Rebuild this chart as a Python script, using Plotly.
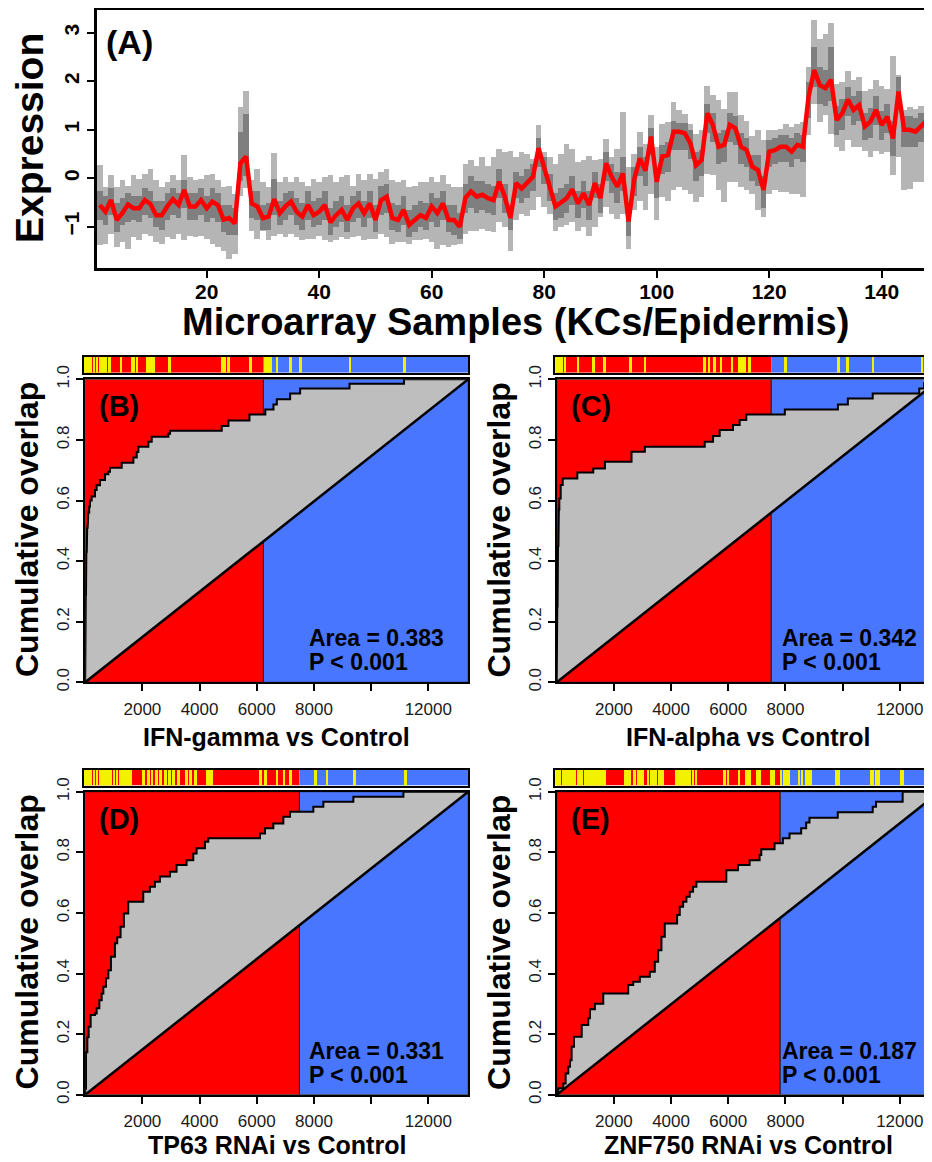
import plotly.graph_objects as go

# The page body has an 8px default margin, so the figure is placed 8px in from the
# window's top-left corner; positions below are given in window pixels.
OFF = 8
W, H = 932 - OFF, 1162 - OFF
FONT = "Liberation Sans, Arial, sans-serif"


def px(x):
    return (x - OFF) / W


def py(y):
    return 1 - (y - OFF) / H


# ---------------- Panel A data ----------------
samples = list(range(1, 150))
median = [-0.55, -0.69, -0.45, -0.86, -0.72, -0.54, -0.62, -0.62, -0.45, -0.53,
          -0.76, -0.76, -0.58, -0.43, -0.55, -0.24, -0.58, -0.58, -0.45, -0.62,
          -0.48, -0.55, -0.85, -0.82, -0.93, 0.31, 0.45, -0.52, -0.58, -0.82,
          -0.79, -0.43, -0.72, -0.58, -0.48, -0.69, -0.79, -0.55, -0.76, -0.69,
          -0.55, -0.91, -0.76, -0.65, -0.86, -0.62, -0.52, -0.72, -0.52, -0.86,
          -0.45, -0.38, -0.82, -0.86, -0.65, -0.96, -0.86, -0.76, -0.82, -0.58,
          -0.72, -0.52, -0.86, -0.86, -1.00, -0.40, -0.27, -0.38, -0.34, -0.41,
          -0.45, -0.07, -0.38, -0.82, -0.10, -0.21, -0.09, 0.03, 0.62, 0.24,
          -0.17, -0.58, -0.50, -0.41, -0.23, -0.52, -0.31, -0.55, -0.10, -0.41,
          0.31, 0.03, -0.17, 0.10, -0.89, -0.03, 0.41, 0.16, 0.86, -0.07,
          0.45, 0.48, 0.96, 0.96, 0.93, 0.72, 0.27, 0.38, 1.34, 1.10,
          0.65, 0.69, 1.10, 1.03, 0.65, 0.58, 0.24, 0.17, -0.24, 0.55,
          0.58, 0.65, 0.65, 0.55, 0.69, 0.65, 1.68, 2.23, 1.92, 1.86,
          2.03, 1.20, 1.34, 1.62, 1.41, 1.51, 1.07, 1.17, 1.41, 1.10,
          1.27, 0.82, 1.79, 1.00, 1.00, 0.96, 1.07, 1.20, 1.27]
light_hi = [0.29, -0.17, 0.07, -0.17, -0.03, -0.14, 0.07, 0.00, 0.10, 0.21,
            -0.03, -0.17, -0.07, 0.07, -0.03, 0.50, 0.03, -0.03, 0.00, 0.07,
            0.10, -0.03, -0.17, -0.14, -0.31, 1.48, 1.82, -0.03, 0.21, -0.07,
            -0.17, 0.53, -0.07, 0.03, -0.07, 0.03, -0.07, -0.14, 0.00, -0.07,
            0.03, 0.07, -0.07, 0.03, 0.07, -0.14, 0.10, -0.03, 0.10, 0.00,
            0.14, 0.21, -0.03, -0.07, -0.03, -0.17, -0.14, -0.07, -0.07, 0.03,
            -0.07, 0.07, -0.10, -0.17, -0.17, 0.31, 0.38, 0.27, 0.45, 0.27,
            0.45, 0.62, 0.55, 0.58, 0.45, 0.55, 0.52, 0.41, 1.10, 0.55,
            0.45, 0.31, 0.52, 0.72, 0.62, 0.34, 0.38, 0.48, 0.38, 0.41,
            0.82, 0.45, 0.62, 1.37, 0.24, 0.52, 0.96, 0.72, 1.31, 0.65,
            1.13, 1.17, 1.58, 1.41, 1.34, 1.13, 0.93, 1.00, 1.92, 1.72,
            1.62, 1.44, 1.79, 1.79, 1.31, 1.20, 0.89, 1.00, 0.79, 1.00,
            1.00, 1.03, 1.13, 1.07, 1.13, 1.17, 2.30, 3.28, 2.89, 2.99,
            3.21, 1.96, 1.99, 2.23, 2.03, 2.10, 1.82, 1.86, 2.03, 1.92,
            1.86, 2.54, 2.13, 1.41, 1.48, 1.44, 1.51, 1.55, 1.58]
light_lo = [-1.37, -1.34, -1.13, -1.41, -1.31, -1.44, -1.20, -1.27, -1.13, -1.17,
            -1.31, -1.34, -1.20, -1.24, -1.13, -1.27, -1.17, -1.20, -1.17, -1.24,
            -1.34, -1.41, -1.48, -1.65, -1.55, -0.35, -0.20, -1.07, -1.24, -1.07,
            -1.27, -1.17, -1.13, -1.20, -1.13, -1.20, -1.27, -1.24, -1.24, -1.17,
            -1.27, -1.31, -1.27, -1.20, -1.24, -1.20, -1.17, -1.27, -1.24, -1.24,
            -1.13, -1.20, -1.34, -1.31, -1.31, -1.34, -1.27, -1.27, -1.24, -1.31,
            -1.44, -1.37, -1.41, -1.37, -1.34, -1.13, -1.07, -1.07, -1.03, -1.07,
            -1.10, -0.89, -1.00, -1.48, -0.86, -0.72, -0.76, -0.65, -0.38, -0.58,
            -0.72, -1.07, -1.00, -0.96, -0.89, -1.07, -1.00, -1.17, -1.00, -0.79,
            -0.58, -0.72, -0.82, -0.72, -1.44, -0.65, -0.45, -0.65, -0.31, -0.86,
            -0.38, -0.45, -0.24, -0.17, -0.24, -0.31, -0.48, -0.38, 0.10, 0.07,
            -0.24, -0.48, -0.07, -0.07, -0.17, -0.24, -0.31, -0.65, -0.79, -0.31,
            -0.24, -0.27, -0.27, -0.31, -0.31, -0.38, 0.90, 1.55, 1.17, 1.31,
            0.93, 0.65, 0.58, 0.79, 0.65, 0.65, 0.58, 0.45, 0.58, 0.52,
            0.55, 0.07, 0.45, -0.24, -0.21, -0.07, -0.07, -0.03, 0.00]
dark_lo = [-0.85, -0.95, -0.75, -1.10, -0.95, -0.90, -0.85, -0.90, -0.75, -0.80,
           -1.00, -1.05, -0.85, -0.75, -0.80, -0.60, -0.85, -0.85, -0.75, -0.90,
           -0.80, -0.90, -1.10, -1.15, -1.15, -0.05, 0.05, -0.80, -0.85, -1.05,
           -1.05, -0.75, -0.95, -0.85, -0.75, -0.95, -1.05, -0.85, -1.00, -0.95,
           -0.85, -1.15, -1.00, -0.90, -1.10, -0.90, -0.80, -1.00, -0.80, -1.10,
           -0.75, -0.70, -1.05, -1.10, -0.95, -1.20, -1.10, -1.00, -1.05, -0.90,
           -1.00, -0.85, -1.10, -1.15, -1.25, -0.70, -0.60, -0.70, -0.65, -0.70,
           -0.75, -0.40, -0.70, -1.05, -0.40, -0.50, -0.40, -0.25, 0.25, -0.10,
           -0.45, -0.85, -0.80, -0.70, -0.55, -0.80, -0.60, -0.85, -0.40, -0.70,
           -0.05, -0.30, -0.50, -0.25, -1.17, -0.35, 0.05, -0.15, 0.50, -0.40,
           0.10, 0.15, 0.60, 0.60, 0.60, 0.40, -0.05, 0.05, 0.95, 0.75,
           0.30, 0.35, 0.75, 0.70, 0.30, 0.25, -0.05, -0.15, -0.60, 0.25,
           0.30, 0.35, 0.35, 0.25, 0.40, 0.35, 1.25, 1.90, 1.55, 1.50,
           1.60, 0.90, 1.00, 1.30, 1.10, 1.20, 0.80, 0.85, 1.10, 0.80,
           0.95, 0.48, 1.45, 0.65, 0.65, 0.65, 0.75, 0.85, 0.90]
dark_hi = [-0.25, -0.35, -0.20, -0.50, -0.40, -0.30, -0.35, -0.35, -0.20, -0.25,
           -0.45, -0.45, -0.30, -0.20, -0.30, -0.03, -0.30, -0.30, -0.20, -0.35,
           -0.20, -0.30, -0.55, -0.55, -0.60, 0.96, 1.34, -0.25, -0.25, -0.55,
           -0.50, 0.00, -0.45, -0.30, -0.25, -0.40, -0.50, -0.25, -0.45, -0.40,
           -0.25, -0.60, -0.45, -0.35, -0.55, -0.35, -0.25, -0.45, -0.25, -0.55,
           -0.15, -0.10, -0.50, -0.55, -0.35, -0.65, -0.55, -0.45, -0.50, -0.30,
           -0.40, -0.25, -0.55, -0.55, -0.70, -0.10, 0.05, -0.05, -0.05, -0.10,
           -0.15, 0.20, -0.10, -0.55, 0.15, 0.05, 0.20, 0.30, 0.85, 0.45,
           0.10, -0.30, -0.20, -0.10, 0.05, -0.25, -0.05, -0.25, 0.15, -0.10,
           0.55, 0.30, 0.15, 0.45, -0.60, 0.25, 0.65, 0.45, 1.05, 0.25,
           0.70, 0.75, 1.20, 1.15, 1.15, 1.00, 0.55, 0.60, 1.55, 1.35,
           0.95, 1.00, 1.35, 1.30, 0.95, 0.85, 0.50, 0.50, 0.05, 0.80,
           0.85, 0.90, 0.90, 0.85, 0.95, 0.90, 2.00, 2.71, 2.30, 2.25,
           2.71, 1.50, 1.65, 1.90, 1.70, 1.80, 1.35, 1.45, 1.70, 1.40,
           1.55, 1.20, 2.10, 1.30, 1.30, 1.25, 1.35, 1.45, 1.50]

# ---------------- Panels B-E data ----------------
n_genes = 13400

b_x = [0, 5, 10, 15, 20, 28, 40, 55, 70, 86, 110, 140, 168, 226, 343, 401, 518, 693, 810, 868,
       1277, 1685, 1802, 1860, 2210, 2326, 2910, 2968, 4776, 5010, 5745, 6300, 6585, 6702,
       7168, 7518, 9244, 11150]
b_y = [0.02, 0.08, 0.15, 0.22, 0.29, 0.37, 0.43, 0.48, 0.51, 0.535, 0.56, 0.58, 0.60, 0.613,
       0.635, 0.65, 0.668, 0.687, 0.695, 0.708, 0.725, 0.742, 0.76, 0.777, 0.794, 0.81, 0.82,
       0.83, 0.846, 0.864, 0.884, 0.90, 0.917, 0.934, 0.953, 0.97, 0.985, 1.0]
b_hits = [0, 100, 200, 300, 400, 500, 600, 700, 845, 1253, 1627, 1708, 1800, 2150, 2230, 2310,
          2385, 2945, 4777, 4858, 5000, 5768, 6293, 6360, 6430, 6493, 6700, 7168, 7518, 9244,
          11158]
b_split = 6234

c_x = [0, 10, 20, 30, 45, 60, 75, 92, 140, 210, 722, 1280, 1687, 2617, 3083, 5178, 5469,
       5701, 6166, 6400, 6631, 7980, 9836, 10184, 11053, 12682, 12850, 13000]
c_y = [0.05, 0.15, 0.25, 0.35, 0.45, 0.52, 0.57, 0.607, 0.651, 0.673, 0.692, 0.706, 0.728,
       0.761, 0.777, 0.794, 0.813, 0.833, 0.849, 0.866, 0.884, 0.90, 0.917, 0.937, 0.953,
       0.97, 0.987, 1.0]
c_hits = [0, 100, 200, 290, 755, 1302, 1686, 2593, 3106, 5177, 5328, 5526, 5759, 6142, 6375,
          6470, 6573, 6748, 8004, 9864, 10178, 11075, 12775, 13030]
c_split = 7505

d_x = [0, 28, 75, 121, 191, 343, 401, 495, 576, 635, 728, 810, 900, 1040, 1120, 1237, 1353,
       1505, 2030, 2263, 2438, 2613, 2963, 3196, 3546, 3780, 3896, 4188, 4305, 6113, 6288,
       6580, 6930, 7163, 7980, 8330, 9380, 11130]
d_y = [0.02, 0.14, 0.19, 0.224, 0.263, 0.268, 0.285, 0.312, 0.334, 0.356, 0.384, 0.411,
       0.455, 0.50, 0.52, 0.554, 0.598, 0.637, 0.67, 0.686, 0.703, 0.72, 0.736, 0.758, 0.774,
       0.796, 0.813, 0.835, 0.846, 0.862, 0.879, 0.895, 0.917, 0.934, 0.95, 0.967, 0.983, 1.0]
d_hits = [0, 100, 200, 300, 400, 500, 600, 700, 800, 900, 1000, 1100, 1200, 1300, 1400, 1500,
          1600, 2035, 2210, 2326, 2478, 2618, 2793, 2945, 3085, 3260, 3528, 3668, 3843, 4252,
          4340, 4426, 6118, 6293, 6702, 6935, 7168, 8043, 8452, 9408, 11193]
d_split = 7494

e_x = [57, 232, 313, 406, 464, 522, 604, 875, 1104, 1163, 1337, 1628, 2501, 2676, 2908, 3257,
       3431, 3548, 3664, 3780, 4211, 4304, 4421, 4537, 4653, 4770, 4886, 5933, 6340, 6748,
       7097, 7155, 7620, 7911, 8144, 8551, 8726, 8842, 9831, 11053, 11170, 12101]
e_y = [0.021, 0.037, 0.07, 0.092, 0.114, 0.158, 0.191, 0.23, 0.252, 0.282, 0.30, 0.334,
       0.362, 0.373, 0.389, 0.406, 0.439, 0.477, 0.521, 0.565, 0.593, 0.62, 0.637, 0.653,
       0.67, 0.686, 0.703, 0.741, 0.758, 0.774, 0.791, 0.81, 0.83, 0.846, 0.862, 0.879,
       0.898, 0.914, 0.932, 0.95, 0.967, 1.0]
e_hits = [0, 60, 115, 232, 300, 370, 440, 510, 580, 639, 755, 813, 871, 1023, 1081, 1139,
          1221, 1300, 1395, 1511, 1600, 1686, 2419, 2490, 2559, 2733, 2850, 2937, 3024, 3198,
          3315, 3400, 3490, 3580, 3650, 3722, 4187, 4270, 4350, 4430, 4510, 4590, 4680, 4769,
          4885, 5874, 5990, 6375, 6654, 6747, 7038, 7119, 7504, 7585, 7853, 7969, 8050, 8143,
          8492, 8585, 8725, 8812, 8900, 9772, 9865, 10994, 11075, 11168, 11261, 12041, 12123]
e_split = 7818

panel_labels = ["(A)", "(B)", "(C)", "(D)", "(E)"]
x_titles = ["IFN-gamma vs Control", "IFN-alpha vs Control", "TP63 RNAi vs Control",
            "ZNF750 RNAi vs Control"]
areas = ["0.383", "0.342", "0.331", "0.187"]
pvals = ["P < 0.001", "P < 0.001", "P < 0.001", "P < 0.001"]
x_tickvals = [2000, 4000, 6000, 8000, 10000, 12000]
x_ticktext = ["2000", "4000", "6000", "8000", "", "12000"]
y_tickvals = [0, 0.2, 0.4, 0.6, 0.8, 1.0]
y_ticktext = ["0.0", "0.2", "0.4", "0.6", "0.8", "1.0"]

RED = "#FF0000"
BLUE = "#4876FF"
GREY_FILL = "#BEBEBE"
YELLOW = "#F2F200"
LIGHT = "#B5B5B5"
DARK = "#7F7F7F"

fig = go.Figure()

# ---------------- Panel A ----------------
fig.add_trace(go.Bar(x=samples, y=[h - l for h, l in zip(light_hi, light_lo)], base=light_lo,
                     width=1, marker=dict(color=LIGHT, line=dict(width=0)),
                     xaxis="x", yaxis="y", hoverinfo="skip"))
fig.add_trace(go.Bar(x=samples, y=[h - l for h, l in zip(dark_hi, dark_lo)], base=dark_lo,
                     width=1, marker=dict(color=DARK, line=dict(width=0)),
                     xaxis="x", yaxis="y", hoverinfo="skip"))
fig.add_trace(go.Scatter(x=samples, y=median, mode="lines",
                         line=dict(color=RED, width=4.5), xaxis="x", yaxis="y"))

layout = dict(
    template="none",
    width=W, height=H, margin=dict(l=0, r=0, t=0, b=0, pad=0),
    paper_bgcolor="white", plot_bgcolor="white", showlegend=False,
    barmode="overlay", bargap=0, font=dict(family=FONT, color="black"),
)

axis_line = dict(showline=True, linecolor="black", showgrid=False, zeroline=False,
                 ticks="outside", tickcolor="black", automargin=False)

layout["xaxis"] = dict(axis_line, domain=[px(97), 1.0], range=[0.5, 148.95],
                       tickvals=[20, 40, 60, 80, 100, 120, 140], linewidth=2.5, mirror=True,
                       ticklen=7, tickwidth=2, ticklabelstandoff=-4,
                       tickfont=dict(family=FONT, size=21, weight="bold", color="black"),
                       anchor="y")
layout["yaxis"] = dict(axis_line, domain=[py(268), py(9.5)], range=[-1.85, 3.48],
                       tickvals=[-1, 0, 1, 2, 3], tickangle=-90, linewidth=2.5, mirror=False,
                       ticklen=7, tickwidth=2,
                       tickfont=dict(family=FONT, size=21, weight="bold", color="black"),
                       anchor="x")

annotations = []
shapes = []


def ann(text, x, y, size, xanchor="center", angle=0, bold=True, yanchor="middle"):
    annotations.append(dict(text=("<b>%s</b>" % text) if bold else text, x=px(x), y=py(y),
                            xref="paper", yref="paper", showarrow=False, xanchor=xanchor,
                            yanchor=yanchor, textangle=angle,
                            font=dict(family=FONT, size=size, color="black")))


ann(panel_labels[0], 104, 42, 34, xanchor="left")
ann("Expression", 30, 138, 39, angle=-90)
ann("Microarray Samples (KCs/Epidermis)", 515, 322, 38)

# ---------------- Panels B-E ----------------
panels = [
    dict(xs=b_x, ys=b_y, hits=b_hits, split=b_split, left=85.2, right=468.3, top=379.3,
         bottom=682.3, s_top=356.7, s_bot=372.7, full=True),
    dict(xs=c_x, ys=c_y, hits=c_hits, split=c_split, left=556.7, right=932, top=379.3,
         bottom=682.3, s_top=356.7, s_bot=372.7, full=False),
    dict(xs=d_x, ys=d_y, hits=d_hits, split=d_split, left=85.2, right=468.3, top=791.7,
         bottom=1094.7, s_top=770, s_bot=785.5, full=True),
    dict(xs=e_x, ys=e_y, hits=e_hits, split=e_split, left=556.7, right=932, top=791.7,
         bottom=1094.7, s_top=770, s_bot=785.5, full=False),
]
scale = (468.3 - 85.2) / n_genes  # px per gene rank

for k, p in enumerate(panels):
    ai = 2 + 2 * k      # main axis index
    si = 3 + 2 * k      # strip axis index
    xa, ya = "x%d" % ai, "y%d" % ai
    xs_, ys_ = "x%d" % si, "y%d" % si
    xmax = (p["right"] - p["left"]) / scale
    x_lo_px, x_hi_px = p["left"], p["right"]

    # step curve vertices
    cx, cy = [0.0], [0.0]
    for x, y in zip(p["xs"], p["ys"]):
        cx += [x, x]
        cy += [cy[-1], y]
    cx.append(n_genes)
    cy.append(cy[-1])

    # background rectangles
    shapes.append(dict(type="rect", xref=xa, yref=ya, x0=0, x1=p["split"], y0=0, y1=1,
                       fillcolor=RED, line=dict(color="#202020", width=1), layer="below"))
    shapes.append(dict(type="rect", xref=xa, yref=ya, x0=p["split"], x1=n_genes, y0=0, y1=1,
                       fillcolor=BLUE, line=dict(color="#202020", width=1), layer="below"))
    # grey area between curve and diagonal
    fig.add_trace(go.Scatter(x=cx + [n_genes, 0], y=cy + [1.0, 0.0], mode="lines",
                             fill="toself", fillcolor=GREY_FILL, line=dict(width=0),
                             xaxis=xa, yaxis=ya, hoverinfo="skip"))
    fig.add_trace(go.Scatter(x=[0, n_genes], y=[0, 1], mode="lines",
                             line=dict(color="black", width=2.5), xaxis=xa, yaxis=ya))
    fig.add_trace(go.Scatter(x=cx, y=cy, mode="lines", line=dict(color="black", width=2),
                             xaxis=xa, yaxis=ya))

    layout["xaxis%d" % ai] = dict(axis_line, domain=[px(x_lo_px), min(px(x_hi_px), 1.0)],
                                  range=[0, xmax], tickvals=x_tickvals, ticktext=x_ticktext,
                                  linewidth=2, mirror=True, ticklen=7, tickwidth=1.5,
                                  tickfont=dict(family=FONT, size=17, color="#1a1a1a"),
                                  ticklabelstandoff=3, anchor=ya)
    layout["yaxis%d" % ai] = dict(axis_line, domain=[py(p["bottom"]), py(p["top"])],
                                  range=[0, 1], tickvals=y_tickvals, ticktext=y_ticktext,
                                  tickangle=-90, linewidth=2, mirror=p["full"], ticklen=7,
                                  tickwidth=1.5,
                                  tickfont=dict(family=FONT, size=17, color="#1a1a1a"),
                                  anchor=xa)

    # strip with hits
    shapes.append(dict(type="rect", xref=xs_, yref=ys_, x0=0, x1=p["split"], y0=0, y1=1,
                       fillcolor=RED, line=dict(width=0), layer="below"))
    shapes.append(dict(type="rect", xref=xs_, yref=ys_, x0=p["split"], x1=n_genes, y0=0, y1=1,
                       fillcolor=BLUE, line=dict(width=0), layer="below"))
    fig.add_trace(go.Bar(x=p["hits"], y=[1] * len(p["hits"]), base=0, width=85,
                         marker=dict(color=YELLOW, line=dict(width=0)),
                         xaxis=xs_, yaxis=ys_, hoverinfo="skip"))
    layout["xaxis%d" % si] = dict(showline=True, linecolor="black", linewidth=1.5, mirror=True,
                                  showgrid=False, zeroline=False, showticklabels=False,
                                  ticks="", automargin=False,
                                  domain=[px(x_lo_px - 1.5), min(px(x_hi_px), 1.0)],
                                  range=[-50, xmax], anchor=ys_)
    layout["yaxis%d" % si] = dict(showline=True, linecolor="black", linewidth=1.5,
                                  mirror=p["full"], showgrid=False, zeroline=False,
                                  showticklabels=False, ticks="", automargin=False,
                                  domain=[py(p["s_bot"]), py(p["s_top"])], range=[0, 1],
                                  anchor=xs_)

    # texts
    ann(panel_labels[k + 1], p["left"] + 12, p["top"] + 27, 29, xanchor="left")
    ann("Cumulative overlap", p["left"] - 58, (p["top"] + p["bottom"]) / 2 - 1, 32, angle=-90)
    title_cx = p["left"] + (468.3 - 85.2) / 2
    ann(x_titles[k], title_cx, min(p["bottom"] + 55, 1145), 25)
    text_x = p["left"] + 222 if p["full"] else p["left"] + 223
    ann("Area = " + areas[k], text_x, p["bottom"] - 44, 23, xanchor="left")
    ann(pvals[k], text_x, p["bottom"] - 20, 23, xanchor="left")

layout["annotations"] = annotations
layout["shapes"] = shapes
fig.update_layout(**layout)

fig.write_html("out.html")
